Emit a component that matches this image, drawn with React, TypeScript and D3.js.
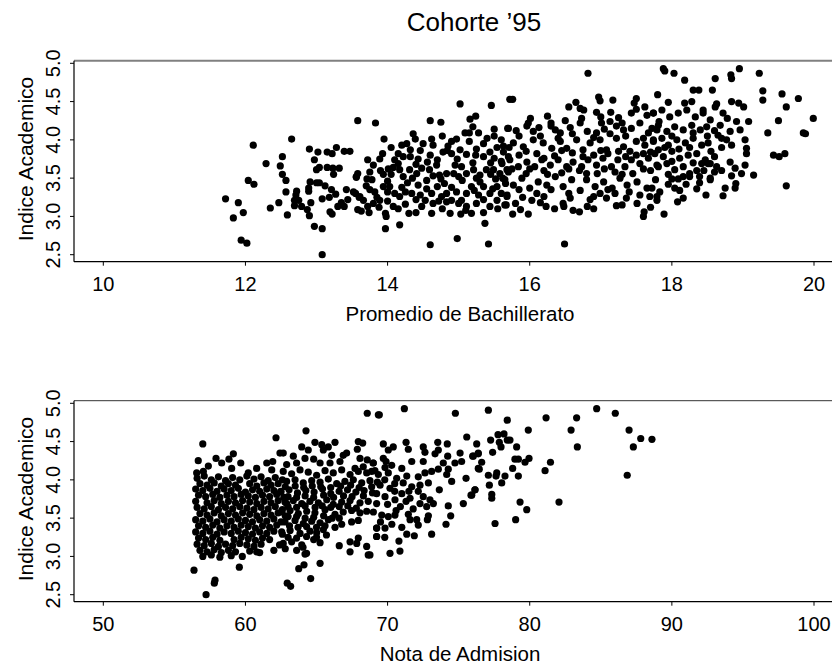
import { useEffect } from "react";
import * as d3 from "d3";

type Pt = [number, number];

const title = "Cohorte ’95";
const yLabel = "Indice Academico";
const topXLabel = "Promedio de Bachillerato";
const bottomXLabel = "Nota de Admision";

const yTicks = [2.5, 3.0, 3.5, 4.0, 4.5, 5.0];
const topXTicks = [10, 12, 14, 16, 18, 20];
const bottomXTicks = [50, 60, 70, 80, 90, 100];

// promedio de bachillerato vs indice academico
const promedioPts: Pt[] = [
  [13.58, 4.25], [12.11, 3.93], [12.65, 4.01], [12.9, 3.88], [13.02, 3.84], [13.15, 3.84], [13.22, 3.82], [13.28, 3.9], [13.39, 3.85], [13.47, 3.85],
  [12.29, 3.69], [12.52, 3.78], [12.49, 3.66], [12.52, 3.55], [12.57, 3.47], [12.97, 3.74], [13.04, 3.64], [13.0, 3.61], [13.15, 3.64], [13.23, 3.63], [13.32, 3.63], [13.24, 3.55], [13.56, 3.51], [13.58, 3.56],
  [12.04, 3.47], [12.12, 3.42], [12.91, 3.45], [13.0, 3.44], [13.04, 3.44], [13.12, 3.4], [13.21, 3.35], [13.42, 3.35], [13.55, 3.3], [13.6, 3.25],
  [11.72, 3.23], [11.9, 3.18], [11.97, 3.05], [11.83, 2.98], [12.35, 3.11], [12.47, 3.18], [12.57, 3.32], [12.72, 3.33], [12.71, 3.28], [12.69, 3.21], [12.75, 3.21], [12.69, 3.14], [12.79, 3.13], [12.59, 3.02], [12.89, 3.37], [12.89, 3.33], [12.92, 3.18], [12.87, 3.09], [12.9, 3.01], [13.08, 3.23], [13.18, 3.25], [13.27, 3.29], [13.19, 3.06], [13.22, 3.03], [13.3, 3.13], [13.39, 3.13], [13.35, 3.18], [13.44, 3.22], [13.58, 3.09], [12.97, 2.87], [13.08, 2.84], [11.94, 2.69], [12.02, 2.65], [13.08, 2.5],
  [15.02, 4.47], [15.46, 4.45], [15.72, 4.53], [13.83, 4.22], [14.6, 4.25], [14.75, 4.23], [15.16, 4.27], [15.24, 4.31],
  [13.95, 4.01], [14.36, 4.08], [14.39, 4.01], [14.62, 4.01], [14.64, 3.93], [14.77, 4.05], [14.9, 3.98], [14.97, 4.01], [15.09, 4.09], [15.15, 4.09], [15.2, 4.17], [15.28, 4.09], [15.5, 4.14], [15.69, 4.15],
  [14.2, 3.93], [14.27, 3.95], [14.32, 3.87], [14.46, 3.86], [13.93, 3.82], [13.89, 3.75], [13.72, 3.74], [13.8, 3.67], [14.1, 3.74], [14.22, 3.78], [14.32, 3.78], [14.43, 3.75], [14.56, 3.71], [14.69, 3.67], [14.78, 3.84], [14.84, 3.86], [14.98, 3.75], [15.02, 3.87], [15.11, 3.81], [15.24, 3.8], [15.35, 3.78], [15.44, 3.84], [15.54, 3.9], [15.63, 3.84], [15.71, 3.9],
  [13.56, 3.52], [13.71, 3.49], [13.78, 3.48], [13.94, 3.55], [14.01, 3.62], [14.08, 3.64], [14.17, 3.61], [14.22, 3.52], [14.31, 3.61], [14.41, 3.56], [14.48, 3.63], [14.59, 3.61], [14.64, 3.53], [14.73, 3.54], [14.83, 3.56], [14.93, 3.56], [15.04, 3.65], [15.11, 3.56], [15.21, 3.61], [15.3, 3.54], [15.39, 3.61], [15.49, 3.61], [15.58, 3.56], [15.68, 3.61],
  [13.52, 3.32], [13.61, 3.26], [13.66, 3.21], [13.82, 3.32], [13.85, 3.25], [13.94, 3.39], [14.03, 3.39], [14.1, 3.3], [14.17, 3.26], [14.25, 3.32], [14.34, 3.3], [14.43, 3.41], [14.46, 3.28], [14.53, 3.21], [14.62, 3.3], [14.7, 3.39], [14.76, 3.26], [14.83, 3.3], [14.9, 3.21], [14.97, 3.32], [15.04, 3.21], [15.11, 3.3], [15.18, 3.39], [15.28, 3.28], [15.35, 3.39], [15.44, 3.3], [15.54, 3.39], [15.66, 3.43],
  [13.63, 3.07], [13.74, 3.05], [13.88, 3.12], [13.97, 3.04], [13.98, 3.0], [14.08, 3.13], [14.3, 3.04], [14.62, 3.04], [14.77, 3.1], [14.88, 3.04], [15.03, 3.03], [15.18, 3.04], [15.35, 3.05], [15.44, 3.13], [15.65, 3.15],
  [15.37, 2.91], [13.97, 2.84], [14.17, 2.89], [14.6, 2.63], [14.98, 2.71], [15.42, 2.64],
  [13.8, 3.17], [13.89, 3.21], [14.48, 3.13], [14.64, 3.17], [14.83, 3.19], [15.11, 3.13], [15.25, 3.17], [15.54, 3.21], [15.68, 3.26],
  [13.7, 3.4], [14.0, 3.46], [14.28, 3.44], [14.55, 3.47], [14.8, 3.43], [15.05, 3.47], [15.3, 3.45], [15.52, 3.49], [13.9, 3.6], [14.15, 3.69], [14.4, 3.68], [14.7, 3.74], [14.95, 3.67], [15.2, 3.7], [15.45, 3.7], [15.6, 3.72], [15.35, 3.95], [15.6, 4.0], [15.4, 4.02],
  [14.05, 3.9], [14.5, 3.95], [14.85, 3.92], [15.15, 3.98], [15.5, 4.05], [14.15, 3.82], [14.6, 3.8], [14.9, 3.82], [15.25, 3.88], [15.5, 3.76],
  [13.75, 3.58], [14.05, 3.55], [14.35, 3.5], [14.75, 3.49], [15.0, 3.52], [15.25, 3.5], [15.45, 3.55], [15.62, 3.5],
  [13.75, 3.35], [14.0, 3.32], [14.2, 3.38], [14.55, 3.36], [14.9, 3.38], [15.22, 3.34], [15.48, 3.36], [15.6, 3.3],
  [13.72, 3.13], [14.0, 3.2], [14.25, 3.16], [14.4, 3.22], [14.72, 3.2], [15.0, 3.17], [15.35, 3.22], [15.55, 3.1], [14.4, 3.05], [14.15, 3.1], [15.1, 3.08],
  [16.82, 4.87], [15.76, 4.53], [16.65, 4.49], [16.55, 4.43], [16.71, 4.41], [16.76, 4.39], [16.97, 4.56], [16.99, 4.51], [17.17, 4.52], [17.5, 4.54], [17.47, 4.48], [17.8, 4.59],
  [16.94, 4.36], [17.01, 4.22], [17.14, 4.36], [17.13, 4.24], [17.25, 4.29], [17.43, 4.35], [17.5, 4.4], [17.62, 4.43], [17.65, 4.32], [17.74, 4.35], [17.82, 4.24],
  [16.01, 4.28], [16.25, 4.31], [16.3, 4.22], [15.98, 4.22],
  [15.7, 4.15], [15.81, 4.12], [15.96, 4.18], [16.05, 4.11], [16.13, 4.16], [16.36, 4.13], [16.43, 4.09], [16.57, 4.16], [16.71, 4.22], [16.73, 4.28],
  [16.81, 4.11], [16.94, 4.09], [17.13, 4.08], [17.22, 4.18], [17.32, 4.13], [17.43, 4.15], [17.55, 4.22], [17.67, 4.09], [17.79, 4.13],
  [15.63, 3.92], [15.77, 3.96], [15.91, 3.91], [16.05, 4.0], [16.19, 3.96], [16.31, 3.89], [16.43, 3.98], [16.52, 3.89], [16.66, 4.0], [16.75, 3.87], [16.85, 3.96], [16.99, 4.0], [17.08, 3.87], [17.22, 4.02], [17.32, 3.91], [17.41, 3.85], [17.5, 3.98], [17.62, 3.93], [17.74, 4.0], [17.81, 3.87],
  [15.61, 3.69], [15.72, 3.74], [15.84, 3.65], [15.96, 3.71], [16.07, 3.65], [16.17, 3.74], [16.29, 3.67], [16.4, 3.74], [16.52, 3.65], [16.61, 3.71], [16.73, 3.65], [16.82, 3.74], [16.94, 3.67], [17.03, 3.76], [17.15, 3.65], [17.24, 3.74], [17.34, 3.65], [17.43, 3.74], [17.55, 3.69], [17.67, 3.76], [17.79, 3.67],
  [15.65, 3.48], [15.77, 3.41], [15.89, 3.5], [16.0, 3.37], [16.12, 3.45], [16.24, 3.41], [16.36, 3.52], [16.47, 3.39], [16.59, 3.48], [16.71, 3.34], [16.8, 3.48], [16.92, 3.39], [17.04, 3.45], [17.16, 3.37], [17.27, 3.5], [17.37, 3.41], [17.51, 3.45], [17.65, 3.37], [17.77, 3.48],
  [15.68, 3.28], [15.8, 3.17], [15.67, 3.15], [15.76, 3.03], [15.87, 3.09], [15.98, 3.03], [16.03, 3.21], [16.2, 3.26], [16.23, 3.13], [16.47, 3.17], [16.48, 3.13], [16.57, 3.24], [16.61, 3.08], [16.7, 3.06], [16.81, 3.13], [16.9, 3.26], [16.99, 3.3], [17.08, 3.24], [17.2, 3.3], [17.22, 3.14], [17.36, 3.24], [17.51, 3.17], [17.61, 3.06], [17.6, 3.0], [17.69, 3.26], [17.79, 3.21],
  [16.49, 2.64],
  [15.7, 3.58], [15.95, 3.56], [16.2, 3.6], [16.45, 3.57], [16.7, 3.6], [16.95, 3.56], [17.2, 3.58], [17.45, 3.56], [17.7, 3.6], [15.85, 3.8], [16.1, 3.82], [16.35, 3.79], [16.6, 3.83], [16.9, 3.8], [17.1, 3.82], [17.35, 3.78], [17.6, 3.82],
  [15.85, 3.35], [16.1, 3.3], [16.3, 3.35], [16.55, 3.3], [16.85, 3.22], [17.1, 3.35], [17.4, 3.32], [17.55, 3.28],
  [15.9, 3.25], [16.15, 3.18], [16.35, 3.1], [16.9, 3.1], [17.3, 3.15], [17.7, 3.12],
  [15.75, 3.62], [16.0, 3.62], [16.25, 3.55], [16.55, 3.62], [16.8, 3.56], [17.05, 3.62], [17.3, 3.55], [17.6, 3.62],
  [15.7, 3.78], [15.95, 3.85], [16.2, 3.76], [16.45, 3.86], [16.75, 3.78], [17.0, 3.86], [17.25, 3.85], [17.5, 3.8], [17.7, 3.84],
  [15.85, 4.05], [16.15, 4.05], [16.4, 4.02], [16.6, 4.08], [16.9, 4.03], [17.05, 4.14], [17.35, 4.05], [17.6, 4.02],
  [16.3, 4.18], [16.5, 4.25], [17.3, 4.22], [17.0, 4.3],
  [17.88, 4.93], [17.9, 4.9], [18.03, 4.87], [18.18, 4.78], [18.61, 4.8], [18.83, 4.85], [18.84, 4.8], [18.95, 4.93], [19.23, 4.87], [18.3, 4.65], [18.38, 4.65], [18.57, 4.65], [19.28, 4.64], [19.28, 4.52], [19.55, 4.6], [19.78, 4.54], [19.61, 4.43], [19.99, 4.28], [19.5, 4.25], [19.35, 4.09], [19.85, 4.09], [19.88, 4.08], [19.43, 3.8], [19.51, 3.78], [19.59, 3.82], [19.61, 3.4],
  [17.95, 4.49], [18.18, 4.48], [18.28, 4.5], [18.63, 4.47], [18.84, 4.5], [18.94, 4.48], [19.01, 4.43],
  [18.44, 4.39], [18.61, 4.43], [18.72, 4.35], [18.78, 4.28], [18.68, 4.19], [18.91, 4.24], [19.08, 4.24], [18.96, 4.13], [18.82, 4.11], [18.77, 4.0], [18.7, 4.02], [18.65, 4.06], [18.84, 3.93], [19.03, 4.0], [19.05, 3.89], [19.05, 3.82],
  [17.74, 4.35], [17.86, 4.39], [17.97, 4.3], [18.09, 4.35], [18.21, 4.39], [18.33, 4.3], [18.44, 4.35], [18.54, 4.26],
  [17.72, 4.15], [17.81, 4.19], [17.93, 4.11], [18.04, 4.17], [18.16, 4.13], [18.28, 4.19], [18.4, 4.13], [18.49, 4.17],
  [17.74, 3.98], [17.86, 4.02], [17.95, 3.93], [18.07, 4.0], [18.19, 3.96], [18.3, 4.02], [18.42, 3.93], [18.51, 3.96],
  [17.76, 3.82], [17.88, 3.78], [18.0, 3.85], [18.11, 3.76], [18.23, 3.8], [18.35, 3.82], [18.47, 3.74], [18.54, 3.69],
  [17.81, 3.65], [17.93, 3.69], [18.04, 3.61], [18.16, 3.65], [18.25, 3.56], [18.39, 3.52], [18.54, 3.5],
  [18.42, 3.69], [18.51, 3.69], [18.63, 3.65], [18.82, 3.71], [18.89, 3.63], [18.98, 3.56], [19.15, 3.54], [19.03, 3.67], [18.54, 3.48], [18.39, 3.44], [18.0, 3.49], [18.09, 3.49], [18.16, 3.52], [18.25, 3.52],
  [18.84, 3.53], [18.9, 3.43], [18.89, 3.37], [18.75, 3.37], [18.72, 3.27], [18.48, 3.28], [18.16, 3.24], [18.08, 3.19], [17.79, 3.26], [17.72, 3.37], [17.83, 3.32], [18.04, 3.37], [18.11, 3.34], [17.89, 3.03],
  [18.0, 4.05], [18.25, 3.9], [18.1, 3.88], [17.9, 3.9], [18.35, 3.6], [17.95, 3.55],
  [18.3, 4.09], [18.6, 4.12], [18.55, 3.85], [18.7, 3.9], [18.6, 3.78], [18.7, 3.6], [18.3, 3.7], [18.2, 3.42], [18.35, 3.36], [17.95, 3.42], [18.6, 3.58], [18.0, 3.72], [18.45, 3.6], [18.5, 4.05],
];

// nota de admision vs indice academico
const admisionPts: Pt[] = [
  [57.0, 4.47], [62.15, 4.55], [62.43, 4.35], [56.68, 4.25], [57.93, 4.28], [58.33, 4.22], [58.84, 4.27], [59.15, 4.34], [59.67, 4.22], [59.03, 4.15], [57.39, 4.18], [56.57, 4.09], [57.04, 4.11],
  [56.38, 2.82], [57.86, 2.69], [57.81, 2.65], [57.23, 2.5], [59.57, 2.86], [59.78, 3.0], [60.79, 3.06], [62.94, 2.65], [63.18, 2.61], [60.2, 4.09], [60.79, 4.15], [61.5, 4.22], [61.92, 4.24], [61.85, 4.13],
  [56.6, 4.02], [57.1, 4.05], [57.6, 4.0], [58.1, 4.04], [58.6, 3.99], [59.1, 4.03], [59.6, 4.0], [60.1, 4.05], [60.6, 4.01], [61.1, 4.04], [61.6, 3.99], [62.1, 4.03], [62.6, 4.0],
  [56.8, 3.95], [57.3, 3.93], [57.8, 3.96], [58.3, 3.92], [58.8, 3.95], [59.3, 3.93], [60.3, 3.95], [60.8, 3.92], [61.3, 3.96], [61.8, 3.93], [62.3, 3.95], [62.8, 3.91],
  [56.5, 3.88], [57.0, 3.86], [57.5, 3.89], [58.0, 3.85], [58.5, 3.88], [59.0, 3.86], [59.5, 3.89], [60.0, 3.84], [60.5, 3.87], [61.0, 3.85], [61.5, 3.88], [62.0, 3.86], [62.5, 3.84],
  [56.7, 3.8], [57.2, 3.78], [57.7, 3.81], [58.2, 3.77], [58.7, 3.8], [59.2, 3.78], [59.7, 3.81], [60.2, 3.79], [60.7, 3.77], [61.2, 3.8], [61.7, 3.78], [62.2, 3.81], [62.7, 3.77],
  [56.5, 3.72], [57.3, 3.7], [57.8, 3.73], [58.3, 3.69], [58.8, 3.72], [59.3, 3.7], [59.8, 3.73], [60.3, 3.71], [60.8, 3.69], [61.3, 3.72], [61.8, 3.7], [62.3, 3.73], [62.9, 3.69],
  [56.6, 3.64], [57.1, 3.62], [57.6, 3.65], [58.1, 3.61], [58.6, 3.64], [59.1, 3.62], [59.6, 3.65], [60.1, 3.63], [60.6, 3.61], [61.1, 3.64], [61.6, 3.62], [62.1, 3.65], [62.6, 3.61],
  [56.8, 3.56], [57.3, 3.54], [57.8, 3.57], [58.3, 3.53], [58.8, 3.56], [59.3, 3.54], [59.8, 3.57], [60.3, 3.55], [60.8, 3.53], [61.3, 3.56], [61.8, 3.54], [62.3, 3.57], [62.8, 3.53],
  [56.5, 3.48], [57.0, 3.46], [57.5, 3.49], [58.0, 3.45], [58.5, 3.48], [59.0, 3.46], [59.5, 3.49], [60.0, 3.47], [60.5, 3.45], [61.0, 3.48], [61.5, 3.46], [62.0, 3.49], [62.5, 3.45],
  [56.7, 3.4], [57.2, 3.38], [57.7, 3.41], [58.2, 3.37], [58.7, 3.4], [59.2, 3.38], [59.7, 3.41], [60.2, 3.39], [60.7, 3.37], [61.2, 3.4], [61.7, 3.38], [62.2, 3.41],
  [56.5, 3.32], [57.0, 3.3], [57.5, 3.33], [58.0, 3.29], [58.5, 3.32], [59.0, 3.3], [59.5, 3.33], [60.0, 3.31], [60.5, 3.29], [61.0, 3.32], [61.5, 3.3], [62.0, 3.33], [62.6, 3.29],
  [56.7, 3.24], [57.2, 3.22], [57.7, 3.25], [58.2, 3.21], [59.2, 3.22], [59.7, 3.25], [60.2, 3.23], [60.7, 3.21], [61.2, 3.24], [61.7, 3.22],
  [56.6, 3.16], [57.1, 3.14], [57.6, 3.17], [58.1, 3.13], [58.6, 3.16], [59.1, 3.14], [59.6, 3.17], [60.1, 3.15], [60.6, 3.13], [61.1, 3.16], [62.4, 3.15],
  [56.8, 3.08], [57.3, 3.06], [57.8, 3.09], [58.3, 3.05], [58.8, 3.08], [59.3, 3.06], [60.3, 3.07], [61.0, 3.05], [62.0, 3.08], [62.8, 3.1],
  [57.0, 3.0], [57.6, 3.02], [58.2, 2.99], [59.0, 3.01],
  [68.57, 4.87], [69.35, 4.85], [64.26, 4.64], [64.89, 4.49], [65.37, 4.46], [65.83, 4.43], [66.3, 4.49], [67.94, 4.5], [68.25, 4.48], [67.87, 4.4], [63.96, 4.43], [64.42, 4.39], [63.37, 4.31], [64.19, 4.28], [62.66, 4.35], [65.48, 4.39], [66.07, 4.32], [66.88, 4.32], [67.12, 4.35], [66.65, 4.24], [65.95, 4.22], [65.25, 4.22], [68.06, 4.28], [68.57, 4.26], [68.99, 4.22], [67.71, 4.15], [68.29, 4.17],
  [62.66, 4.11], [63.25, 4.08], [63.84, 4.13], [64.42, 4.1], [65.01, 4.06], [65.6, 4.12], [66.18, 4.09], [66.77, 4.13], [67.36, 4.07], [67.94, 4.11], [68.53, 4.09], [69.11, 4.12],
  [62.9, 3.98], [63.49, 4.0], [64.07, 3.96], [64.66, 3.99], [65.25, 3.97], [65.83, 4.01], [66.42, 3.95], [67.0, 3.98], [67.59, 4.0], [68.18, 3.96], [68.76, 3.99], [69.28, 3.97],
  [62.48, 3.85], [63.07, 3.87], [63.66, 3.83], [64.25, 3.86], [64.83, 3.84], [65.42, 3.88], [66.0, 3.82], [66.59, 3.85], [67.18, 3.87], [67.77, 3.84], [68.35, 3.86], [68.94, 3.83],
  [62.78, 3.71], [63.37, 3.73], [63.96, 3.69], [64.54, 3.72], [65.13, 3.7], [65.72, 3.74], [66.18, 3.68], [66.77, 3.71], [67.36, 3.73], [68.06, 3.7], [68.64, 3.72], [69.23, 3.69],
  [62.55, 3.58], [63.14, 3.6], [63.72, 3.56], [64.31, 3.59], [64.89, 3.57], [65.6, 3.61], [66.3, 3.55], [66.88, 3.58], [67.47, 3.6], [68.06, 3.57], [68.53, 3.59],
  [62.78, 3.45], [63.49, 3.47], [64.07, 3.43], [64.66, 3.46], [65.25, 3.44], [65.83, 3.48], [66.77, 3.42], [67.47, 3.45], [67.94, 3.47],
  [62.55, 3.32], [63.14, 3.34], [63.84, 3.3], [64.54, 3.33], [65.01, 3.31], [65.48, 3.35],
  [62.66, 3.17], [63.25, 3.19], [63.96, 3.15], [65.25, 3.18],
  [69.23, 3.37], [69.23, 3.26], [68.64, 3.02], [68.53, 3.13], [67.83, 3.17], [67.94, 3.24], [67.36, 3.19], [66.6, 3.14], [67.36, 3.06],
  [64.19, 3.03], [65.25, 2.91], [64.12, 2.89], [63.75, 2.84], [64.59, 2.71],
  [64.05, 3.12], [64.3, 3.04], [63.6, 3.08], [64.8, 3.22], [65.7, 3.28],
  [63.5, 3.92], [64.1, 3.9], [64.7, 3.92], [65.3, 3.91], [66.0, 3.9], [66.7, 3.92], [67.4, 3.93], [68.0, 3.9],
  [63.0, 3.78], [63.6, 3.77], [64.2, 3.79], [64.8, 3.77], [65.5, 3.8], [66.2, 3.77], [66.9, 3.79], [67.5, 3.78], [68.3, 3.79],
  [63.0, 3.65], [63.6, 3.64], [64.2, 3.66], [64.9, 3.64], [65.4, 3.66], [66.0, 3.64], [66.6, 3.65], [67.2, 3.66], [67.8, 3.63],
  [63.0, 3.52], [63.6, 3.52], [64.2, 3.5], [64.8, 3.51], [65.5, 3.53], [66.1, 3.5], [66.6, 3.5],
  [63.1, 3.4], [63.7, 3.38], [64.3, 3.39], [65.0, 3.38], [65.6, 3.4], [66.3, 3.38],
  [63.0, 3.25], [63.6, 3.24], [64.3, 3.26], [65.0, 3.25], [62.9, 4.2], [63.6, 4.22], [64.8, 4.27],
  [69.8, 4.0], [70.5, 3.95], [71.5, 3.85], [70.5, 3.85], [70.0, 3.68], [70.9, 3.65], [71.3, 3.72], [71.8, 3.62], [70.6, 3.6], [69.5, 3.45], [70.3, 3.42], [71.0, 3.38], [70.8, 3.2], [69.8, 3.25],
  [71.18, 4.93], [69.42, 4.85], [74.77, 4.87], [75.57, 4.56], [69.7, 4.47], [71.3, 4.49], [73.53, 4.49], [74.2, 4.47], [76.27, 4.47],
  [70.4, 4.43], [70.05, 4.39], [71.46, 4.4], [72.51, 4.43], [72.63, 4.36], [73.34, 4.34], [73.57, 4.39], [74.23, 4.31], [75.1, 4.35], [75.99, 4.31], [76.38, 4.35],
  [69.7, 4.28], [69.89, 4.24], [68.99, 4.22], [70.29, 4.19], [71.0, 4.15], [69.82, 4.16], [71.7, 4.24], [72.51, 4.24], [73.92, 4.22], [74.74, 4.22], [75.21, 4.24], [74.27, 4.14], [76.38, 4.15],
  [68.88, 4.11], [69.35, 4.07], [70.05, 4.09], [70.64, 4.02], [71.35, 4.05], [72.16, 4.04], [72.63, 4.09], [73.1, 4.11], [73.57, 4.14], [74.16, 4.07], [74.51, 3.98], [75.52, 4.02], [68.88, 3.91], [69.47, 3.93], [70.17, 3.89], [71.1, 3.96], [71.7, 3.91], [72.28, 3.93], [72.87, 3.96],
  [69.23, 3.82], [69.82, 3.78], [70.52, 3.74], [71.0, 3.82], [71.58, 3.76], [72.16, 3.85], [72.51, 3.78], [72.98, 3.74], [72.28, 3.69], [72.75, 3.65], [73.22, 3.69], [73.64, 3.87], [75.33, 3.69], [75.87, 3.8], [76.15, 3.87],
  [69.0, 3.58], [69.59, 3.54], [70.05, 3.52], [70.52, 3.54], [71.46, 3.55], [71.58, 3.48], [72.05, 3.48], [72.16, 3.41], [72.8, 3.48], [72.87, 3.53], [74.27, 3.66], [74.44, 3.53], [74.11, 3.42], [69.23, 3.37], [69.82, 3.37], [69.23, 3.26], [71.35, 3.29], [71.88, 3.27], [73.1, 3.29],
  [70.17, 3.04], [70.87, 3.07], [68.76, 3.02],
  [77.09, 4.91], [78.42, 4.78], [81.15, 4.81], [83.3, 4.81], [84.71, 4.93], [86.02, 4.87], [79.9, 4.65], [82.91, 4.65], [86.99, 4.65], [87.81, 4.54], [88.6, 4.53], [87.29, 4.43], [83.35, 4.43], [86.86, 4.06], [81.46, 4.23], [81.08, 4.12], [82.06, 3.71],
  [77.25, 4.52], [77.77, 4.59], [78.19, 4.6], [77.86, 4.49], [77.98, 4.43], [78.42, 4.52], [78.61, 4.52], [79.08, 4.43], [77.39, 4.36],
  [76.03, 4.31], [76.38, 4.34], [76.62, 4.23], [76.45, 4.14], [78.96, 4.27], [79.2, 4.27], [79.67, 4.23], [79.95, 4.28], [78.8, 4.15], [77.09, 4.06], [77.68, 4.09], [77.63, 4.05], [78.26, 4.05], [79.2, 4.05], [78.03, 3.96], [77.16, 3.93], [76.15, 3.87], [75.92, 3.8], [77.33, 3.81], [77.33, 3.76],
  [79.32, 3.71], [79.79, 3.61], [79.01, 3.48], [77.56, 3.43],
];

const FONT = "'Liberation Sans', Arial, Helvetica, sans-serif";

type PanelProps = {
  top: number;
  points: Pt[];
  xDomain: [number, number];
  xTicks: number[];
  xLabel: string;
  topStroke: string;
  topWidth: number;
};

function Panel({ top, points, xDomain, xTicks, xLabel, topStroke, topWidth }: PanelProps) {
  const left = 74;
  const right = 846;
  const bottom = top + 201;

  const x = d3.scaleLinear().domain(xDomain).range([103.3, 814]);
  const y = d3.scaleLinear().domain([2.5, 5]).range([top + 194, top + 2.6]);

  return (
    <g>
      {points.map((p, i) => (
        <circle key={i} cx={x(p[0])} cy={y(p[1])} r={3.6} fill="#000" />
      ))}
      <line x1={left} x2={right} y1={top} y2={top} stroke={topStroke} strokeWidth={topWidth} />
      <line x1={left} x2={left} y1={top} y2={bottom} stroke="#000" strokeWidth={1.2} />
      <line x1={left} x2={right} y1={bottom} y2={bottom} stroke="#000" strokeWidth={1.2} />
      {yTicks.map((t) => (
        <g key={t}>
          <line x1={left - 4} x2={left} y1={y(t)} y2={y(t)} stroke="#000" />
          <text
            transform={`translate(53,${y(t)}) rotate(-90)`}
            textAnchor="middle"
            dominantBaseline="central"
            fontSize={20}
          >
            {t.toFixed(1)}
          </text>
        </g>
      ))}
      {xTicks.map((t) => (
        <g key={t}>
          <line x1={x(t)} x2={x(t)} y1={bottom} y2={bottom + 4} stroke="#000" />
          <text x={x(t)} y={bottom + 22} textAnchor="middle" dominantBaseline="central" fontSize={20}>
            {t}
          </text>
        </g>
      ))}
      <text x={460} y={bottom + 52} textAnchor="middle" dominantBaseline="central" fontSize={20.5}>
        {xLabel}
      </text>
      <text
        transform={`translate(25,${(y(2.5) + y(5)) / 2}) rotate(-90)`}
        textAnchor="middle"
        dominantBaseline="central"
        fontSize={21}
      >
        {yLabel}
      </text>
    </g>
  );
}

export default function App() {
  useEffect(() => {
    document.body.style.margin = "0";
  }, []);

  return (
    <svg width={832} height={665} style={{ display: "block", background: "#fff" }} fontFamily={FONT}>
      <rect width={832} height={665} fill="#fff" />
      <text x={474} y={22} textAnchor="middle" dominantBaseline="central" fontSize={26}>
        {title}
      </text>
      <Panel
        top={60.7}
        points={promedioPts}
        xDomain={[10, 20]}
        xTicks={topXTicks}
        xLabel={topXLabel}
        topStroke="#808080"
        topWidth={2}
      />
      <Panel
        top={400.7}
        points={admisionPts}
        xDomain={[50, 100]}
        xTicks={bottomXTicks}
        xLabel={bottomXLabel}
        topStroke="#333"
        topWidth={1}
      />
    </svg>
  );
}
